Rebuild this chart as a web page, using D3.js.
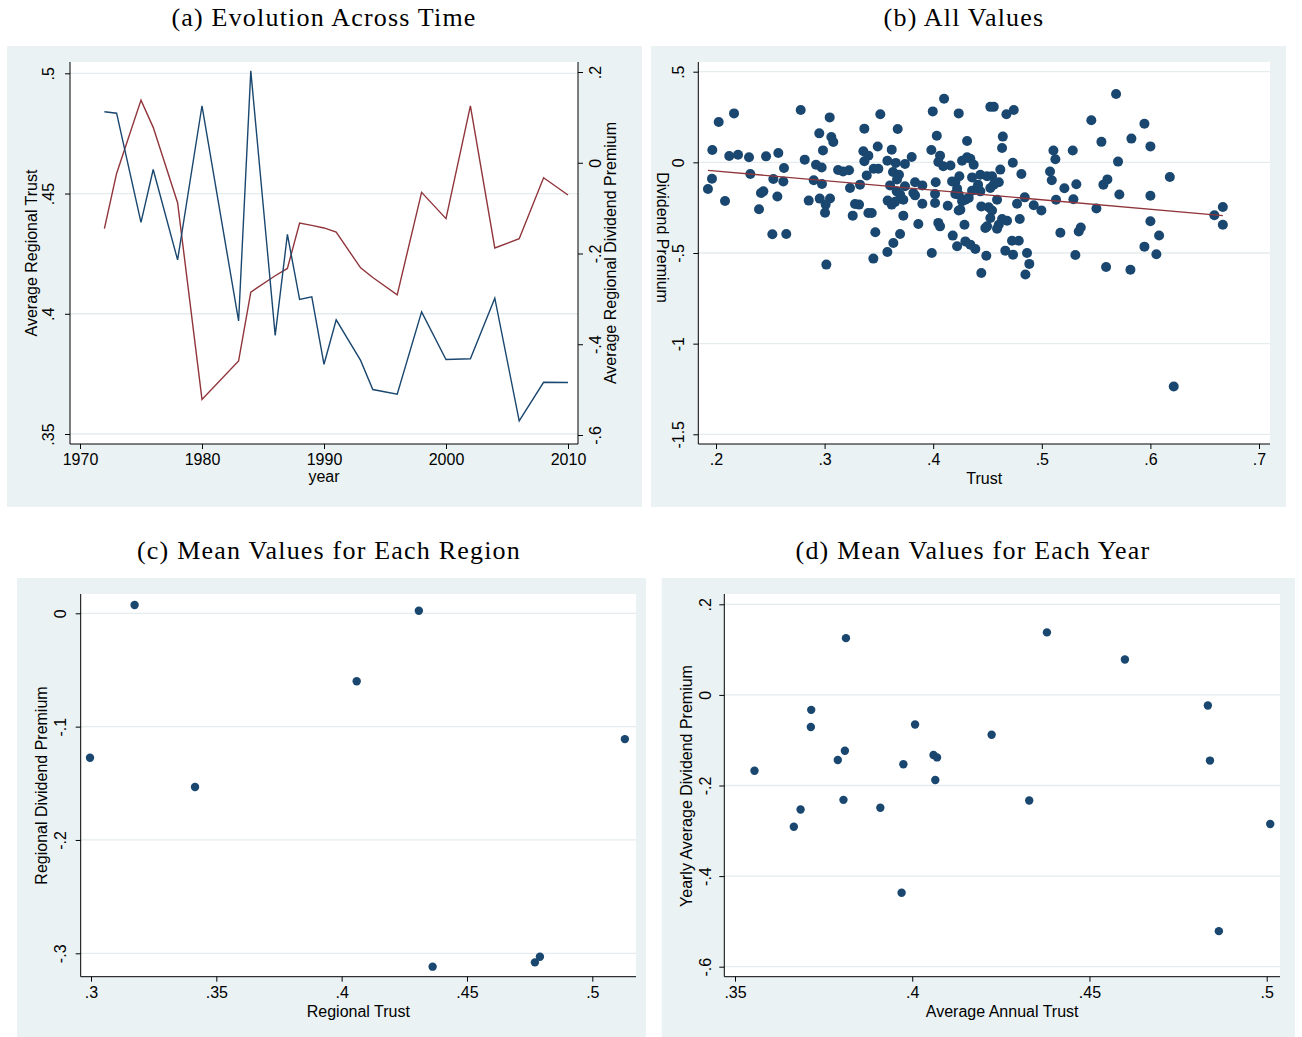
<!DOCTYPE html>
<html>
<head>
<meta charset="utf-8">
<script src="https://cdn.jsdelivr.net/npm/d3@7"></script>
<style>
    html, body { margin: 0; padding: 0; background: #ffffff; }
    svg { display: block; }
    .panel-title { font-family: "Liberation Serif", "Times New Roman", serif; font-size: 26px; letter-spacing: 1.2px; fill: #000; }
    .axis-title, .tick text { font-family: "Liberation Sans", Arial, sans-serif; font-size: 16px; fill: #000; }
</style>
</head>
<body>
<svg id="chart" width="1302" height="1037"></svg>
<script>
// ===================================
// DATA
// ===================================

// (a) and (d): one value per survey year
const years = [1972, 1973, 1975, 1976, 1978, 1980, 1983, 1984, 1986, 1987, 1988, 1989,
               1990, 1991, 1993, 1994, 1996, 1998, 2000, 2002, 2004, 2006, 2008, 2010];
const annualTrust = [.484, .4834, .438, .460, .4224, .4865, .397, .501, .391, .433, .406, .407,
                     .379, .3975, .3806, .3685, .3666, .4008, .381, .3813, .4065, .3555, .3715, .3714];
const annualPremium = [-.145, -.0235, .138, .078, -.088, -.5215, -.4368, -.285, -.249, -.233, -.1328, -.138,
                       -.1437, -.153, -.2317, -.253, -.291, -.0653, -.1232, .1253, -.1878, -.1674, -.033, -.071];

// (b): every region-year observation
const allTrust = [
    .2166, .2025, .278, .3047, .2951, .3062, .3080, .2985, .1966, .2122, .2203, .2304, .2461, .2574,
    .2817, .2921, .2973, .3124, .2626, .2316, .1963, .1926, .2528, .262, .29, .2976, .2436, .2414,
    .2565, .2083, .2854, .2955, .305, .301, .3004, .2396, .2519, .2647, .3016,
    .41, .3513, .3996, .3366, .3673, .4033, .3489, .3618, .3983, .3357, .3403, .3366, .3802, .4063,
    .3578, .3655, .374, .4047, .4093, .317, .3225, .3452, .3495, .3388, .363, .3685, .3667, .3234,
    .3326, .3603, .374, .3833, .39, .4023, .3664, .3695, .3817, .3833, .4017, .3725, .3581, .3618,
    .3649, .39, .4017, .328, .3317, .3259, .3403, .3434, .3725, .3863, .4047, .4063, .3467, .3695,
    .3633, .3578, .3987, .3449,
    .4235, .4526, .4558, .4674, .4742, .4312, .4641, .4634, .4266, .4312, .4342, .4373, .4159, .4733,
    .4618, .4812, .4241, .4204, .4174, .4358, .4434, .4496, .4542, .4604, .4558, .4526, .4413, .4388,
    .4434, .4358, .422, .4235, .4204, .4327, .4296, .4266, .4588, .4134, .425, .4235, .4443, .4511,
    .4542, .4772, .4843, .4926, .4996, .4526, .4496, .448, .4634, .468, .4604, .4588, .4797, .4288,
    .418, .4296, .4342, .4388, .422, .4726, .4788, .4664, .4735, .4489, .4864, .4885, .4443, .4849,
    .5684, .5456, .5945, .5549, .5825, .60, .5107, .5125, .5285, .5702, .5076, .5092, .6179, .5604,
    .5567, .5208, .5318, .5714, .60, .5131, .5291, .5503, .6589, .6667, .6667, .60, .5171, .534,
    .5359, .608, .5945, .5309, .6055, .5592, .5816, .6215
];
const allPremium = [
    .270, .223, .289, .248, .160, .140, .1125, .066, .068, .035, .042, .028, .033, .052,
    .015, -.013, -.028, -.042, -.031, -.064, -.090, -.147, -.092, -.106, -.099, -.119, -.160, -.169,
    -.188, -.213, -.211, -.200, -.199, -.233, -.278, -.259, -.397, -.395, -.564,
    .351, .265, .281, .186, .184, .147, .087, .070, .068, .061, .037, .006, .030, .037,
    .009, -.003, -.009, .002, -.022, -.050, -.044, -.035, -.035, -.072, -.053, -.068, -.095, -.141,
    -.123, -.127, -.132, -.110, -.127, -.110, -.160, -.178, -.169, -.182, -.174, -.206, -.211, -.233,
    -.218, -.228, -.224, -.230, -.233, -.294, -.279, -.279, -.294, -.340, -.334, -.353, -.386, -.395,
    -.445, -.494, -.500, -.531,
    .270, .306, .306, .265, .289, .118, .142, .079, .009, .028, .020, -.013, -.017, -.002,
    -.040, -.064, -.077, -.108, -.105, -.083, -.068, -.077, -.077, -.110, -.123, -.141, -.123, -.151,
    -.160, -.156, -.145, -.178, -.174, -.196, -.206, -.215, -.206, -.239, -.261, -.266, -.243, -.248,
    -.266, -.228, -.193, -.237, -.265, -.307, -.353, -.362, -.312, -.322, -.344, -.366, -.312, -.344,
    -.404, -.436, -.454, -.478, -.463, -.432, -.432, -.487, -.509, -.515, -.500, -.560, -.610, -.619,
    .377, .232, .213, .113, .131, .088, .065, .017, .065, .004, -.050, -.099, -.081, -.094,
    -.123, -.143, -.121, -.177, -.184, -.206, -.204, -.255, -.292, -.246, -.344, -.325, -.388, -.381,
    -.359, -.403, -.465, -.511, -.507, -.577, -.592, -1.236
];
// fitted line drawn in (b), end points
const fitTrust = [.1926, .6667];
const fitPremium = [-.044, -.294];

// (c): one value per region
const regionTrust = [.2996, .3174, .3415, .406, .4308, .4363, .4771, .4791, .513];
const regionPremium = [-.1274, .0073, -.1533, -.060, .0023, -.3118, -.308, -.303, -.111];

// tick values
const aYearTicks = [1970, 1980, 1990, 2000, 2010];
const aTrustTicks = [.35, .4, .45, .5];
const aPremTicks = [-.6, -.4, -.2, 0, .2];
const bTrustTicks = [.2, .3, .4, .5, .6, .7];
const bPremTicks = [-1.5, -1, -.5, 0, .5];
const cTrustTicks = [.3, .35, .4, .45, .5];
const cPremTicks = [-.3, -.2, -.1, 0];
const dTrustTicks = [.35, .4, .45, .5];
const dPremTicks = [-.6, -.4, -.2, 0, .2];

// ===================================
// STYLE
// ===================================
const BG = '#eaf2f3';
const GRID = '#e4ecee';
const NAVY = '#1a476f';
const MAROON = '#90353b';

const svg = d3.select('#chart');

// Stata-like number labels: .5, -.5, 0, 1970
function fmt(v) {
    const s = String(+v.toFixed(4));
    return s.replace(/^0\./, '.').replace(/^-0\./, '-.');
}

// panel background + white plot region
function frame(p) {
    svg.append('rect')
        .attr('x', p.bg[0]).attr('y', p.bg[1])
        .attr('width', p.bg[2] - p.bg[0]).attr('height', p.bg[3] - p.bg[1])
        .attr('fill', BG);
    svg.append('rect')
        .attr('x', p.plot[0]).attr('y', p.plot[1])
        .attr('width', p.plot[2] - p.plot[0]).attr('height', p.plot[3] - p.plot[1])
        .attr('fill', '#fff');
    svg.append('text')
        .attr('class', 'panel-title')
        .attr('x', p.titleX).attr('y', p.titleY)
        .attr('text-anchor', 'middle')
        .text(p.title);
}

function grid(p, y, ticks) {
    svg.append('g')
        .selectAll('line')
        .data(ticks)
        .join('line')
        .attr('x1', p.plot[0]).attr('x2', p.plot[2])
        .attr('y1', d => y(d)).attr('y2', d => y(d))
        .attr('stroke', GRID)
        .attr('stroke-width', 1.3);
}

// x axis at the bottom of plot region
function xAxis(p, x, ticks, label) {
    const g = svg.append('g')
        .attr('transform', `translate(0,${p.plot[3]})`)
        .call(d3.axisBottom(x).tickValues(ticks).tickFormat(fmt).tickSize(5).tickSizeOuter(0));
    g.select('.domain').remove();
    g.selectAll('.tick line').attr('stroke', '#000');
    g.selectAll('.tick text').attr('y', 21).attr('dy', 0);
    svg.append('line')
        .attr('x1', p.plot[0]).attr('x2', p.plot[2])
        .attr('y1', p.plot[3]).attr('y2', p.plot[3])
        .attr('stroke', '#000');
    svg.append('text')
        .attr('class', 'axis-title')
        .attr('x', (p.plot[0] + p.plot[2]) / 2)
        .attr('y', p.xTitleY)
        .attr('text-anchor', 'middle')
        .text(label);
}

// vertical axis, labels turned to read upwards
function yAxis(p, y, ticks, side, labelOff, label, titleX, titleY, titleRot) {
    const xPos = side === 'left' ? p.plot[0] : p.plot[2];
    const axis = side === 'left' ? d3.axisLeft(y) : d3.axisRight(y);
    const g = svg.append('g')
        .attr('transform', `translate(${xPos},0)`)
        .call(axis.tickValues(ticks).tickFormat(fmt).tickSize(5).tickSizeOuter(0));
    g.select('.domain').remove();
    g.selectAll('.tick line').attr('stroke', '#000');
    g.selectAll('.tick text')
        .attr('transform', 'rotate(-90)')
        .attr('text-anchor', 'middle')
        .attr('x', 0)
        .attr('y', labelOff)
        .attr('dy', 0);
    svg.append('line')
        .attr('x1', xPos).attr('x2', xPos)
        .attr('y1', p.plot[1]).attr('y2', p.plot[3])
        .attr('stroke', '#000');
    svg.append('text')
        .attr('class', 'axis-title')
        .attr('transform', `translate(${titleX},${titleY}) rotate(${titleRot})`)
        .attr('text-anchor', 'middle')
        .text(label);
}

function dots(x, y, xs, ys, r) {
    svg.append('g')
        .selectAll('circle')
        .data(xs.map((v, i) => [v, ys[i]]))
        .join('circle')
        .attr('cx', d => x(d[0]))
        .attr('cy', d => y(d[1]))
        .attr('r', r)
        .attr('fill', NAVY);
}

// ===================================
// (a) Evolution Across Time
// ===================================
const pa = { bg: [7, 46, 642, 507], plot: [70, 62, 578, 444], title: '(a) Evolution Across Time',
             titleX: 324, titleY: 26, xTitleY: 481.5 };
frame(pa);
const ax = d3.scaleLinear().domain([1970, 2010]).range([80, 568]);
const ayL = d3.scaleLinear().domain([.35, .5]).range([434, 73.3]);
const ayR = d3.scaleLinear().domain([-.6, .2]).range([435, 72]);
grid(pa, ayL, aTrustTicks);

svg.append('path')
    .datum(years.map((yr, i) => [yr, annualPremium[i]]))
    .attr('fill', 'none')
    .attr('stroke', MAROON)
    .attr('stroke-width', 1.4)
    .attr('d', d3.line().x(d => ax(d[0])).y(d => ayR(d[1])));
svg.append('path')
    .datum(years.map((yr, i) => [yr, annualTrust[i]]))
    .attr('fill', 'none')
    .attr('stroke', NAVY)
    .attr('stroke-width', 1.4)
    .attr('d', d3.line().x(d => ax(d[0])).y(d => ayL(d[1])));

xAxis(pa, ax, aYearTicks, 'year');
yAxis(pa, ayL, aTrustTicks, 'left', -16, 'Average Regional Trust', 37, 253, -90);
yAxis(pa, ayR, aPremTicks, 'right', 23, 'Average Regional Dividend Premium', 616, 253, -90);

// ===================================
// (b) All Values
// ===================================
const pb = { bg: [651, 46, 1286, 507], plot: [698.3, 62, 1270, 444], title: '(b) All Values',
             titleX: 964, titleY: 26, xTitleY: 483.5 };
frame(pb);
const bx = d3.scaleLinear().domain([.2, .7]).range([716, 1259]);
const by = d3.scaleLinear().domain([-1.5, .5]).range([434.3, 71.7]);
grid(pb, by, bPremTicks);
dots(bx, by, allTrust, allPremium, 5);
svg.append('path')
    .datum(fitTrust.map((v, i) => [v, fitPremium[i]]))
    .attr('fill', 'none')
    .attr('stroke', MAROON)
    .attr('stroke-width', 1.4)
    .attr('d', d3.line().x(d => bx(d[0])).y(d => by(d[1])));
xAxis(pb, bx, bTrustTicks, 'Trust');
yAxis(pb, by, bPremTicks, 'left', -14.5, 'Dividend Premium', 657, 237.5, 90);

// ===================================
// (c) Mean Values for Each Region
// ===================================
const pc = { bg: [17, 578, 646, 1037], plot: [80.7, 594, 636, 976.7], title: '(c) Mean Values for Each Region',
             titleX: 329, titleY: 559, xTitleY: 1016.5 };
frame(pc);
const cx = d3.scaleLinear().domain([.3, .5]).range([91, 592.3]);
const cy = d3.scaleLinear().domain([-.3, 0]).range([953.3, 613.3]);
grid(pc, cy, cPremTicks);
dots(cx, cy, regionTrust, regionPremium, 4.2);
xAxis(pc, cx, cTrustTicks, 'Regional Trust');
yAxis(pc, cy, cPremTicks, 'left', -14.7, 'Regional Dividend Premium', 47, 785.5, -90);

// ===================================
// (d) Mean Values for Each Year
// ===================================
const pd = { bg: [661.7, 578, 1295, 1037], plot: [724.3, 594, 1280, 976.7], title: '(d) Mean Values for Each Year',
             titleX: 973, titleY: 559, xTitleY: 1016.5 };
frame(pd);
const dx = d3.scaleLinear().domain([.35, .5]).range([735, 1266.7]);
const dy = d3.scaleLinear().domain([-.6, .2]).range([966.7, 604.3]);
grid(pd, dy, dPremTicks);
dots(dx, dy, annualTrust, annualPremium, 4.2);
xAxis(pd, dx, dTrustTicks, 'Average Annual Trust');
yAxis(pd, dy, dPremTicks, 'left', -13.3, 'Yearly Average Dividend Premium', 692, 786, -90);
</script>
</body>
</html>
